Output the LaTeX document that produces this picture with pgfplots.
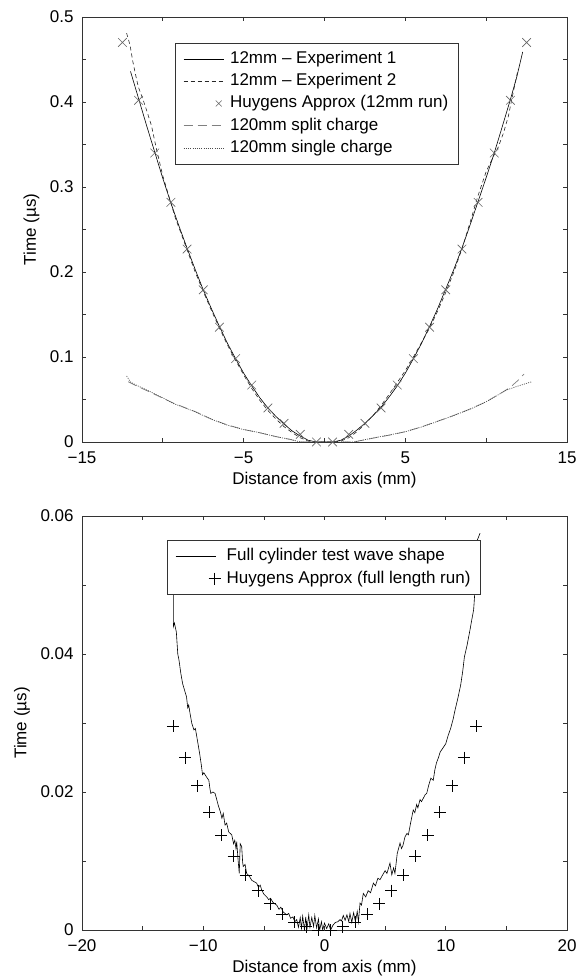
\documentclass[border=0pt]{standalone}
\usepackage{fontspec}
\setmainfont{Liberation Sans}
\usepackage{pgfplots}
\pgfplotsset{compat=1.18}
\newcommand{\fs}{\fontsize{17}{20}\selectfont}
\pgfplotsset{
 common/.style={
  scale only axis, width=485pt,
  axis line style={black!80, line width=0.7pt},
  every tick/.style={black!80, line width=0.7pt},
  major tick length=4pt, minor tick length=4pt,
  tick align=inside,
  scaled x ticks=false, scaled y ticks=false,
  tick label style={font=\fs, inner sep=1pt},
  xticklabel style={yshift=-8.7pt},
  yticklabel style={xshift=-7.2pt},
  label style={font=\fs},
  ylabel style={yshift=6pt},
  xlabel style={yshift=-4pt},
  /pgf/number format/assume math mode=true,
  legend cell align=left,
  legend image code/.code={\draw[##1] (0pt,0pt) -- (40pt,0pt);},
  legend style={font=\fs, draw=black!80, line width=0.7pt, fill=white,
    anchor=north west, inner xsep=8pt, inner ysep=6pt, row sep=2.2pt,
    nodes={inner sep=2pt, text height=12.5pt, text depth=3.5pt},
    /tikz/every odd column/.append style={column sep=4pt}},
 },
 xleg/.style={legend image code/.code={\draw[##1, mark size=4.2pt] plot coordinates {(35pt,0pt)};}},
 pleg/.style={legend image code/.code={\draw[##1] plot coordinates {(39pt,0pt)};}},
}
\begin{document}
\begin{tikzpicture}
\path[use as bounding box] (0pt,0pt) rectangle (584pt,979pt);
% ---------------- top plot ----------------
\begin{axis}[common, at={(82pt,537pt)}, anchor=south west, height=425pt,
  xmin=-15, xmax=15, ymin=0, ymax=0.5,
  xtick={-15,-5,5,15}, xticklabels={−15,−5,5,15}, minor xtick={-10,0,10},
  ytick={0,0.1,0.2,0.3,0.4,0.5}, yticklabels={0,0.1,0.2,0.3,0.4,0.5},
  minor ytick={0.05,0.15,0.25,0.35,0.45},
  xlabel={Distance from axis (mm)}, ylabel={Time (µs)},
  legend style={at={(0.1918,0.9395)}}]
\addplot[black, line width=0.6pt] coordinates {
(-12.0,0.436) (-11.5,0.404) (-11.0,0.372) (-10.5,0.341) (-10.0,0.310)
(-9.5,0.281) (-9.0,0.254) (-8.5,0.228) (-8.0,0.203) (-7.5,0.179)
(-7.0,0.157) (-6.5,0.136) (-6.0,0.116) (-5.5,0.098) (-5.0,0.081)
(-4.5,0.066) (-4.0,0.052) (-3.5,0.040) (-3.0,0.030) (-2.5,0.021)
(-2.0,0.013) (-1.5,0.007) (-1.0,0.002) (-0.5,0.000) (0.0,0.000)
(0.5,0.000) (1.0,0.002) (1.5,0.007) (2.0,0.014) (2.5,0.022)
(3.0,0.031) (3.5,0.041) (4.0,0.053) (4.5,0.066) (5.0,0.081)
(5.5,0.098) (6.0,0.116) (6.5,0.136) (7.0,0.157) (7.5,0.180)
(8.0,0.203) (8.5,0.228) (9.0,0.255) (9.5,0.283) (10.0,0.311)
(10.5,0.340) (10.9,0.365) (11.5,0.403) (11.9,0.430) (12.26,0.459)};
\addlegendentry{12mm – Experiment 1}
\addplot[black!85, line width=0.6pt, dash pattern=on 4pt off 3pt] coordinates {
(-12.24,0.481) (-12.03,0.467) (-11.87,0.449) (-11.72,0.435) (-11.52,0.418)
(-11.21,0.402) (-11.0,0.390) (-10.7,0.372) (-10.4,0.345) (-10.0,0.313)
(-9.5,0.281) (-9.2,0.262) (-9.0,0.252) (-8.5,0.226) (-8.0,0.200)
(-7.5,0.177) (-7.0,0.155) (-6.5,0.134) (-6.0,0.114) (-5.5,0.096)
(-5.0,0.079) (-4.5,0.063) (-4.0,0.049) (-3.5,0.037) (-3.0,0.027)
(-2.5,0.018) (-2.0,0.011) (-1.5,0.005) (-1.0,0.001) (-0.5,0.000)
(0.5,0.000) (1.0,0.001) (1.5,0.005) (2.0,0.012) (2.5,0.021)
(3.0,0.031) (3.5,0.043) (4.0,0.056) (4.5,0.070) (5.0,0.084)
(5.5,0.100) (6.0,0.117) (6.5,0.134) (7.0,0.154) (7.5,0.176)
(8.0,0.200) (8.5,0.227) (9.0,0.258) (9.5,0.290) (10.0,0.318)
(10.5,0.338) (10.75,0.347) (11.06,0.363) (11.37,0.383) (11.68,0.412) (11.98,0.439)};
\addlegendentry{12mm – Experiment 2}
\addplot[only marks, mark=x, mark size=6.1pt, black!60, mark options={line width=0.6pt}, xleg] coordinates {
(-12.5,0.470) (-11.5,0.402) (-10.5,0.340) (-9.5,0.282) (-8.5,0.227)
(-7.5,0.179) (-6.5,0.135) (-5.5,0.098) (-4.5,0.067) (-3.5,0.040)
(-2.5,0.022) (-1.5,0.009) (-0.5,0.000) (0.5,0.000) (1.5,0.009)
(2.5,0.022) (3.5,0.040) (4.5,0.067) (5.5,0.098) (6.5,0.135)
(7.5,0.179) (8.5,0.227) (9.5,0.282) (10.5,0.340) (11.5,0.402) (12.5,0.470)};
\addlegendentry{Huygens Approx (12mm run)}
\addplot[black!50, line width=0.7pt, dash pattern=on 9pt off 5pt] coordinates {
(-12.14,0.0709) (-11.62,0.0659) (-11.0,0.0605) (-10.0,0.0515) (-9.35,0.0458)
(-8.0,0.0358) (-7.0,0.0270) (-6.0,0.0200) (-5.0,0.0148) (-4.0,0.0108)
(-3.0,0.0064) (-2.13,0.0030) (-1.5,0.0000) (0.0,0.0000) (1.8,0.0000)
(3.0,0.0045) (4.0,0.0080) (5.0,0.0121) (6.0,0.0178) (7.0,0.0245)
(7.8,0.0298) (9.0,0.0388) (10.0,0.0472) (11.0,0.0585) (11.5,0.0645)
(12.0,0.0730) (12.34,0.0800)};
\addlegendentry{120mm split charge}
\addplot[black!70, line width=0.7pt, dash pattern=on 1pt off 1.2pt] coordinates {
(-12.24,0.0776) (-12.0,0.0705) (-11.6,0.0665) (-11.0,0.0612) (-10.0,0.0520)
(-9.35,0.0453) (-8.0,0.0355) (-7.0,0.0268) (-6.0,0.0198) (-5.0,0.0145)
(-4.0,0.0110) (-3.0,0.0062) (-2.13,0.0032) (-1.5,0.0000) (0.0,0.0000)
(1.8,0.0000) (3.0,0.0047) (4.0,0.0082) (5.0,0.0121) (6.0,0.0176)
(7.0,0.0243) (7.8,0.0298) (9.0,0.0385) (10.0,0.0474) (11.27,0.0612)
(12.0,0.0660) (12.82,0.0709)};
\addlegendentry{120mm single charge}
\end{axis}
% ---------------- bottom plot ----------------
\begin{axis}[common, at={(82pt,49pt)}, anchor=south west, height=414pt,
  xmin=-20, xmax=20, ymin=0, ymax=0.06,
  xtick={-20,-10,0,10,20}, xticklabels={−20,−10,0,10,20}, minor xtick={-15,-5,5,15},
  ytick={0,0.02,0.04,0.06}, yticklabels={0,0.02,0.04,0.06},
  minor ytick={0.01,0.03,0.05},
  xlabel={Distance from axis (mm)}, ylabel={Time (µs)},
  legend style={at={(0.1753,0.942)}}]
\addplot[black, line width=0.6pt] coordinates {
(-12.52,0.0555) (-12.48,0.0520) (-12.46,0.0488) (-12.46,0.0440) (-12.38,0.0445)
(-12.22,0.0432) (-12.10,0.0400) (-12.0,0.0391) (-11.85,0.0372) (-11.7,0.0357)
(-11.5,0.0345) (-11.38,0.0338) (-11.28,0.0322) (-11.2,0.0326) (-11.1,0.0315)
(-10.95,0.0300) (-10.77,0.0290) (-10.65,0.0292) (-10.55,0.0282) (-10.3,0.0256)
(-10.15,0.0238) (-10.06,0.0225) (-9.95,0.0228) (-9.85,0.0225) (-9.7,0.0221)
(-9.54,0.0217) (-9.45,0.0205) (-9.38,0.0198) (-9.2,0.0200) (-9.03,0.0198)
(-8.9,0.0190) (-8.77,0.0181) (-8.6,0.0172) (-8.46,0.0162) (-8.35,0.0169)
(-8.2,0.0152) (-8.07,0.0155) (-7.9,0.0142) (-7.65,0.0138) (-7.5,0.0125)
(-7.4,0.0130) (-7.3,0.0118) (-7.24,0.0128) (-7.12,0.0100) (-7.03,0.0082)
(-6.95,0.0125) (-6.83,0.0121) (-6.75,0.0098) (-6.7,0.0092) (-6.55,0.0095)
(-6.42,0.0082) (-6.2,0.0078) (-6.0,0.0072) (-5.8,0.0070) (-5.6,0.0068)
(-5.45,0.0062) (-5.3,0.0065) (-5.18,0.0058) (-5.0,0.0052) (-4.77,0.0048)
(-4.6,0.0044) (-4.45,0.0046) (-4.25,0.0040) (-3.94,0.0036) (-3.75,0.0030)
(-3.6,0.0033) (-3.4,0.0026) (-3.12,0.0022) (-2.95,0.0024) (-2.8,0.0017)
(-2.6,0.0019) (-2.45,0.0012) (-2.29,0.0015) (-2.15,0.0004) (-2.0,0.0018)
(-1.9,0.0002) (-1.8,0.0020) (-1.65,0.0000) (-1.55,0.0019) (-1.45,0.0001)
(-1.3,0.0022) (-1.2,0.0004) (-1.05,0.0018) (-0.9,0.0005) (-0.8,0.0021)
(-0.65,0.0003) (-0.5,0.0016) (-0.4,0.0000) (-0.25,0.0012) (-0.15,0.0000)
(0.0,0.0010) (0.18,0.0002) (0.35,0.0009) (0.5,0.0000) (0.7,0.0007)
(0.9,0.0011) (1.1,0.0012) (1.28,0.0015) (1.4,0.0013) (1.55,0.0021)
(1.7,0.0014) (1.85,0.0022) (2.0,0.0012) (2.1,0.0024) (2.25,0.0011)
(2.4,0.0025) (2.55,0.0012) (2.7,0.0027) (2.8,0.0012) (2.93,0.0039)
(3.05,0.0036) (3.2,0.0053) (3.4,0.0048) (3.6,0.0057) (3.8,0.0054)
(4.03,0.0068) (4.2,0.0064) (4.4,0.0075) (4.58,0.0073) (4.8,0.0080)
(5.0,0.0086) (5.15,0.0082) (5.4,0.0097) (5.55,0.0080) (5.7,0.0090)
(5.81,0.0082) (6.0,0.0111) (6.23,0.0126) (6.35,0.0118) (6.46,0.0122)
(6.64,0.0135) (6.8,0.0140) (6.92,0.0138) (7.1,0.0155) (7.32,0.0174)
(7.45,0.0170) (7.6,0.0182) (7.7,0.0177) (7.88,0.0189) (8.0,0.0186)
(8.15,0.0191) (8.3,0.0196) (8.43,0.0198) (8.6,0.0210) (8.77,0.0220)
(8.97,0.0217) (9.1,0.0232) (9.23,0.0242) (9.4,0.0250) (9.54,0.0258)
(9.7,0.0262) (9.85,0.0266) (10.0,0.0270) (10.2,0.0282) (10.4,0.0292)
(10.6,0.0305) (10.77,0.0319) (11.0,0.0336) (11.23,0.0355) (11.4,0.0375)
(11.54,0.0396) (11.75,0.0412) (12.0,0.0435) (12.15,0.0450) (12.3,0.0464)
(12.4,0.0490) (12.46,0.0517) (12.55,0.0550) (12.6,0.0565) (12.83,0.0575)};
\addlegendentry{Full cylinder test wave shape}
\addplot[only marks, mark=+, mark size=6pt, black, mark options={line width=0.6pt}, pleg] coordinates {
(-12.5,0.0295) (-11.5,0.0250) (-10.5,0.0209) (-9.5,0.0171) (-8.5,0.0137)
(-7.5,0.0107) (-6.5,0.0080) (-5.5,0.0057) (-4.5,0.0038) (-3.5,0.0023)
(-2.5,0.0011) (-1.5,0.0005) (-0.5,0.0000) (0.5,0.0000) (1.5,0.0005)
(2.5,0.0011) (3.5,0.0023) (4.5,0.0038) (5.5,0.0057) (6.5,0.0080)
(7.5,0.0107) (8.5,0.0137) (9.5,0.0171) (10.5,0.0209) (11.5,0.0250) (12.5,0.0295)};
\addlegendentry{Huygens Approx (full length run)}
\end{axis}
\end{tikzpicture}
\end{document}
